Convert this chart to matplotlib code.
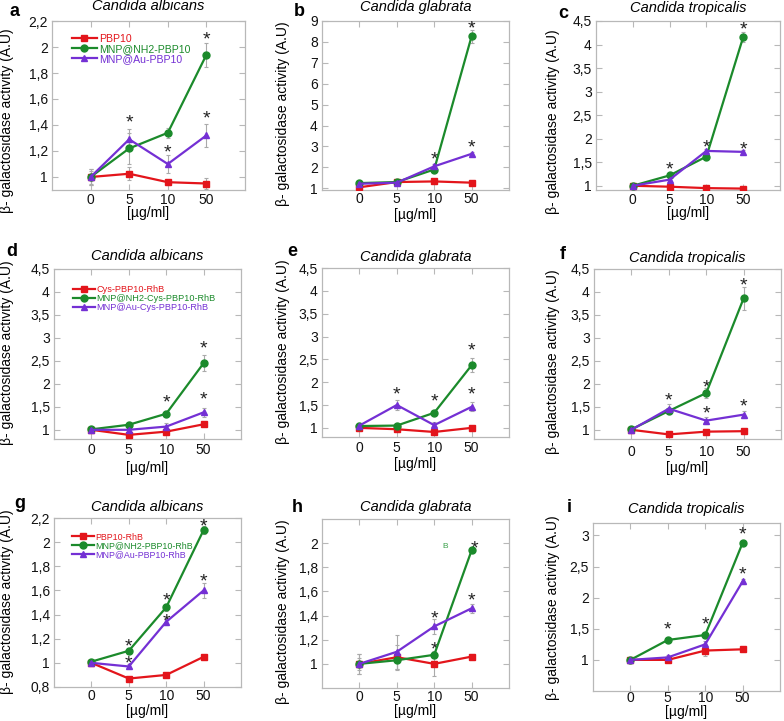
import numpy as np
import matplotlib
matplotlib.use("Agg")
from matplotlib import pyplot as plt
from matplotlib.ticker import FuncFormatter

plt.rcParams['font.family'] = ['Liberation Sans', 'DejaVu Sans']

doses = ["0", "5", "10", "50"]
species = ["Candida albicans", "Candida glabrata", "Candida tropicalis"]
letters = ["a", "b", "c", "d", "e", "f", "g", "h", "i"]

legend_a = ["PBP10", "MNP@NH2-PBP10", "MNP@Au-PBP10"]
legend_d = ["Cys-PBP10-RhB", "MNP@NH2-Cys-PBP10-RhB", "MNP@Au-Cys-PBP10-RhB"]
legend_g = ["PBP10-RhB", "MNP@NH2-PBP10-RhB", "MNP@Au-PBP10-RhB"]

# mean values: red (peptide), green (MNP@NH2), purple (MNP@Au)
red_a = [1.0, 1.025, 0.96, 0.95]
green_a = [1.0, 1.22, 1.34, 1.94]
purple_a = [1.0, 1.29, 1.10, 1.32]
red_b = [1.05, 1.3, 1.33, 1.27]
green_b = [1.25, 1.3, 1.9, 8.27]
purple_b = [1.22, 1.27, 2.05, 2.65]
red_c = [1.0, 0.98, 0.95, 0.94]
green_c = [1.0, 1.22, 1.62, 4.16]
purple_c = [1.0, 1.13, 1.74, 1.72]
red_d = [1.0, 0.89, 0.96, 1.12]
green_d = [1.01, 1.11, 1.35, 2.45]
purple_d = [1.0, 1.0, 1.07, 1.38]
red_e = [1.0, 0.97, 0.91, 1.0]
green_e = [1.04, 1.05, 1.33, 2.37]
purple_e = [1.05, 1.5, 1.06, 1.46]
red_f = [1.0, 0.9, 0.96, 0.97]
green_f = [1.01, 1.41, 1.8, 3.86]
purple_f = [1.0, 1.46, 1.2, 1.33]
red_g = [1.0, 0.87, 0.9, 1.05]
green_g = [1.01, 1.1, 1.46, 2.1]
purple_g = [1.0, 0.97, 1.34, 1.6]
red_h = [1.0, 1.055, 1.0, 1.06]
green_h = [1.0, 1.03, 1.075, 1.94]
purple_h = [1.0, 1.1, 1.31, 1.46]
red_i = [1.0, 1.0, 1.15, 1.17]
green_i = [1.0, 1.32, 1.4, 2.88]
purple_i = [1.0, 1.04, 1.25, 2.26]

# standard deviations
red_a_err = [0.06, 0.05, 0.02, 0.04]
green_a_err = [0.05, 0.12, 0.04, 0.09]
purple_a_err = [0.06, 0.08, 0.07, 0.09]
red_b_err = [0.05, 0.05, 0.05, 0.05]
green_b_err = [0.05, 0.05, 0.1, 0.3]
purple_b_err = [0.05, 0.05, 0.1, 0.08]
red_c_err = [0.02, 0.02, 0.02, 0.02]
green_c_err = [0.03, 0.04, 0.05, 0.1]
purple_c_err = [0.03, 0.03, 0.05, 0.05]
red_d_err = [0.03, 0.03, 0.03, 0.03]
green_d_err = [0.03, 0.05, 0.07, 0.17]
purple_d_err = [0.03, 0.04, 0.08, 0.1]
red_e_err = [0.03, 0.03, 0.03, 0.03]
green_e_err = [0.06, 0.03, 0.05, 0.15]
purple_e_err = [0.05, 0.1, 0.06, 0.1]
red_f_err = [0.02, 0.02, 0.02, 0.02]
green_f_err = [0.04, 0.06, 0.1, 0.25]
purple_f_err = [0.03, 0.1, 0.08, 0.08]
red_g_err = [0.01, 0.01, 0.01, 0.01]
green_g_err = [0.01, 0.02, 0.03, 0.03]
purple_g_err = [0.01, 0.02, 0.03, 0.06]
red_h_err = [0.08, 0.1, 0.1, 0.02]
green_h_err = [0.08, 0.08, 0.03, 0.02]
purple_h_err = [0.05, 0.14, 0.06, 0.04]
red_i_err = [0.02, 0.03, 0.08, 0.03]
green_i_err = [0.03, 0.03, 0.04, 0.03]
purple_i_err = [0.03, 0.04, 0.05, 0.04]

# significance stars: (dose index, y)
stars_a = [(1, 1.44), (2, 1.21), (3, 2.08), (3, 1.47)]
stars_b = [(2, 2.5), (3, 8.76), (3, 3.07)]
stars_c = [(1, 1.4), (2, 1.87), (3, 1.83), (3, 4.37)]
stars_d = [(2, 1.65), (3, 2.84), (3, 1.71)]
stars_e = [(1, 1.79), (2, 1.63), (3, 2.75), (3, 1.79)]
stars_f = [(1, 1.69), (2, 1.99), (2, 1.41), (3, 4.2), (3, 1.56)]
stars_g = [(1, 1.16), (1, 1.02), (2, 1.54), (2, 1.37), (3, 2.15), (3, 1.7)]
stars_h = [(2, 1.4), (2, 1.14), (3.08, 1.98), (3, 1.55)]
stars_i = [(1, 1.53), (2, 1.62), (3, 3.06), (3, 2.41)]

ylims = [(0.9, 2.2), (0.92, 9), (0.91, 4.5),
         (0.8, 4.5), (0.8, 4.5), (0.8, 4.5),
         (0.8, 2.2), (0.8, 2.2), (0.5, 3.2)]
yticks = [np.arange(1, 2.21, 0.2), np.arange(1, 9.1, 1), np.arange(1, 4.51, 0.5),
          np.arange(1, 4.51, 0.5), np.arange(1, 4.51, 0.5), np.arange(1, 4.51, 0.5),
          np.arange(0.8, 2.21, 0.2), np.arange(1, 2.01, 0.2), np.arange(1, 3.01, 0.5)]

# layout in pixels
boxes = [(52, 245, 21, 190), (322, 509, 21, 190), (596, 780, 21, 190),
         (54, 241, 269, 439), (322, 509, 268, 437), (594, 781, 269, 439),
         (54, 241, 518, 687), (322, 509, 519, 688), (593, 780, 523, 691)]
letter_pos = [(14, 12), (299, 12), (563, 14), (12, 251), (292, 251), (563, 254),
              (20, 504), (297, 507), (569, 508)]
title_y = [6, 7, 8, 256, 257, 258, 507, 507, 509]
ticklabel_y = [200, 199, 200, 450, 448, 452, 696, 697, 698]
xlabel_y = [213, 215, 213, 468, 464, 468, 711, 711, 712]
ylabel_x = [7, 283, 553]
ylabel_y = [121, 114, 122, 353, 352, 362, 602, 612, 608]
# legend: top anchor (axes fraction), font size
legend_opts = {0: (0.955, 7.6), 3: (0.93, 6.6), 6: (0.94, 6.4)}

RED = '#e3151b'
GREEN = '#1b8a2b'
PURPLE = '#7430d4'
GRID = '#b8b8b8'

panels = [
    (red_a, green_a, purple_a, red_a_err, green_a_err, purple_a_err, stars_a),
    (red_b, green_b, purple_b, red_b_err, green_b_err, purple_b_err, stars_b),
    (red_c, green_c, purple_c, red_c_err, green_c_err, purple_c_err, stars_c),
    (red_d, green_d, purple_d, red_d_err, green_d_err, purple_d_err, stars_d),
    (red_e, green_e, purple_e, red_e_err, green_e_err, purple_e_err, stars_e),
    (red_f, green_f, purple_f, red_f_err, green_f_err, purple_f_err, stars_f),
    (red_g, green_g, purple_g, red_g_err, green_g_err, purple_g_err, stars_g),
    (red_h, green_h, purple_h, red_h_err, green_h_err, purple_h_err, stars_h),
    (red_i, green_i, purple_i, red_i_err, green_i_err, purple_i_err, stars_i),
]
legend_names = {0: legend_a, 3: legend_d, 6: legend_g}

W, H = 784, 721
fig = plt.figure(figsize=(W / 100, H / 100), dpi=100)
comma = FuncFormatter(lambda v, p: f"{v:g}".replace('.', ','))
x = np.arange(len(doses))
STAR_FS = 14

for k, (r, g, p, re, ge, pe, stars) in enumerate(panels):
    l, rt, t, b = boxes[k]
    hpx = b - t
    ax = fig.add_axes([l / W, 1 - b / H, (rt - l) / W, hpx / H])
    specs = [(r, re, RED, 's', 5, 3), (g, ge, GREEN, 'o', 5, 4), (p, pe, PURPLE, '^', 4, 5)]
    names = legend_names.get(k, [None] * 3)
    for (vals, err, col, mk, ms, z), name in zip(specs, names):
        ax.errorbar(x, vals, yerr=err, fmt='none', ecolor='#aaaaaa', elinewidth=0.8,
                    capsize=1.5, capthick=0.8, zorder=2)
        ax.plot(x, vals, color=col, marker=mk, ms=ms, lw=1.6, label=name, zorder=z)
    for sx, sy in stars:
        # the asterisk glyph sits high, so anchor on the baseline and drop it
        ax.annotate('*', (sx, sy), xytext=(0, -0.4 * STAR_FS), textcoords='offset points',
                    ha='center', va='baseline', fontsize=STAR_FS, color='#222222')
    if k == 7:
        ax.text(2.29, 1.97, 'B', ha='center', va='center', fontsize=6, color='#3aa04a')
    ax.set_xlim(-1, 4)
    ax.set_ylim(*ylims[k])
    ax.set_xticks(x)
    ax.set_xticklabels(doses)
    ax.set_yticks(yticks[k])
    ax.yaxis.set_major_formatter(comma)
    xpad = max((ticklabel_y[k] - b - 7) * 0.72, 0)
    ax.tick_params(direction='in', length=4, color=GRID, labelsize=10,
                   top=True, right=True, labelcolor='#111111')
    ax.tick_params(axis='x', pad=xpad)
    ax.tick_params(axis='y', pad=3)
    for s in ax.spines.values():
        s.set_color(GRID)
        s.set_linewidth(0.9)
    ax.set_xlabel('[µg/ml]', fontsize=10)
    ax.xaxis.label.set_va('center')
    ax.xaxis.set_label_coords(0.5, -(xlabel_y[k] - b) / hpx)
    ax.set_title(species[k % 3], fontsize=10.5, style='italic', va='center',
                 y=1 + (t - title_y[k]) / hpx, pad=0)
    if k in legend_names:
        top, fs = legend_opts[k]
        ax.legend(loc='upper left', bbox_to_anchor=(0.075, top), frameon=False,
                  fontsize=fs, handlelength=2.4, labelspacing=0.0, borderpad=0,
                  handletextpad=0.2, labelcolor='linecolor')
    fig.text(ylabel_x[k % 3] / W, 1 - ylabel_y[k] / H, 'β- galactosidase activity (A.U)',
             rotation=90, ha='center', va='center', fontsize=10)
    lx, ly = letter_pos[k]
    fig.text(lx / W, 1 - ly / H, letters[k], ha='center', va='center', fontsize=13,
             fontweight='bold')

fig.savefig('out.png', dpi=100)
